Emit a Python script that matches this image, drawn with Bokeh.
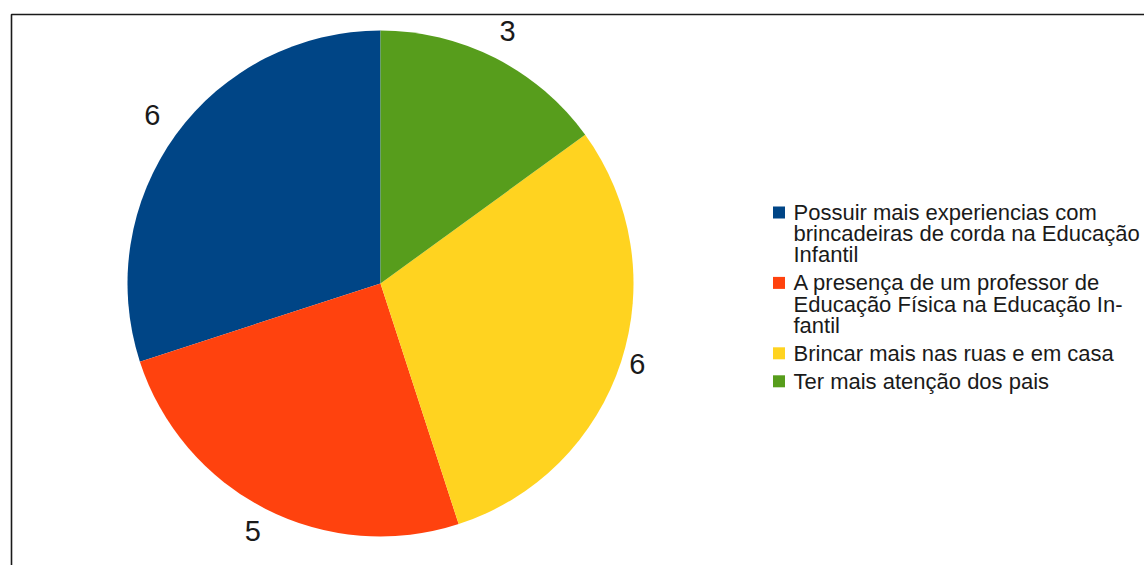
import numpy as np
from bokeh.plotting import figure
from bokeh.models import Range1d, ColumnDataSource
from bokeh.core.properties import value
from bokeh.embed import file_html
from bokeh.resources import INLINE

# ---- data ----
categories = [
    "Possuir mais experiencias com brincadeiras de corda na Educação Infantil",
    "A presença de um professor de Educação Física na Educação Infantil",
    "Brincar mais nas ruas e em casa",
    "Ter mais atenção dos pais",
]
legend_lines = [
    ["Possuir mais experiencias com", "brincadeiras de corda na Educação", "Infantil"],
    ["A presença de um professor de", "Educação Física na Educação In-", "fantil"],
    ["Brincar mais nas ruas e em casa"],
    ["Ter mais atenção dos pais"],
]
counts = [6, 5, 6, 3]
colors = ["#004586", "#ff420e", "#ffd320", "#579d1c"]

# ---- layout constants (screen px, y down) ----
W, H = 1144, 565
CX, CY, R = 380, 283, 253
label_dist = [282, 281, 270, 280]
label_shift = 3      # upward nudge of value labels
legend_shift = 6     # upward nudge of legend text
FONT = "Liberation Sans"

def sy(y):
    return H - y

p = figure(width=W, height=H, output_backend="svg", toolbar_location=None,
           x_range=Range1d(0, W), y_range=Range1d(0, H), min_border=0)
p.axis.visible = False
p.grid.visible = False
p.outline_line_color = None
p.background_fill_color = "white"
p.border_fill_color = "white"

# frame
p.quad(left=[11], right=[W + 10], top=[sy(14)], bottom=[-10],
       fill_color=None, line_color="#1a1a1a", line_width=1.6)

# pie
total = float(sum(counts))
angles = np.array(counts) / total * 2 * np.pi
starts = np.pi / 2 + np.concatenate([[0], np.cumsum(angles)[:-1]])
ends = starts + angles
src = ColumnDataSource(dict(start=starts, end=ends, color=colors))
p.wedge(x=CX, y=sy(CY), radius=R, start_angle="start", end_angle="end",
        direction="anticlock", fill_color="color", line_color=None, source=src)

# value labels
mids = (starts + ends) / 2
lx = [CX + d * np.cos(a) for d, a in zip(label_dist, mids)]
ly = [sy(CY) + d * np.sin(a) + label_shift for d, a in zip(label_dist, mids)]
p.text(x=lx, y=ly, text=[str(c) for c in counts], text_align="center",
       text_baseline="middle", text_font=value(FONT), text_font_size="29px",
       text_color="#1a1a1a")

# legend
base = 218.0
step = 21.2
gap = 28.0
tx, ty, tt = [], [], []
sqx, sqy = [], []
for lines in legend_lines:
    sqx.append(778.5)
    sqy.append(sy(base - 6))
    for i, ln in enumerate(lines):
        tx.append(793)
        ty.append(sy(base + i * step - legend_shift))
        tt.append(ln)
    base = base + (len(lines) - 1) * step + gap
p.rect(x=sqx, y=sqy, width=12, height=12, fill_color=colors, line_color=None)
p.text(x=tx, y=ty, text=tt, text_align="left", text_baseline="alphabetic",
       text_font=value(FONT), text_font_size="22px", text_color="#1a1a1a")

open("out.html", "w").write(file_html(p, INLINE))
